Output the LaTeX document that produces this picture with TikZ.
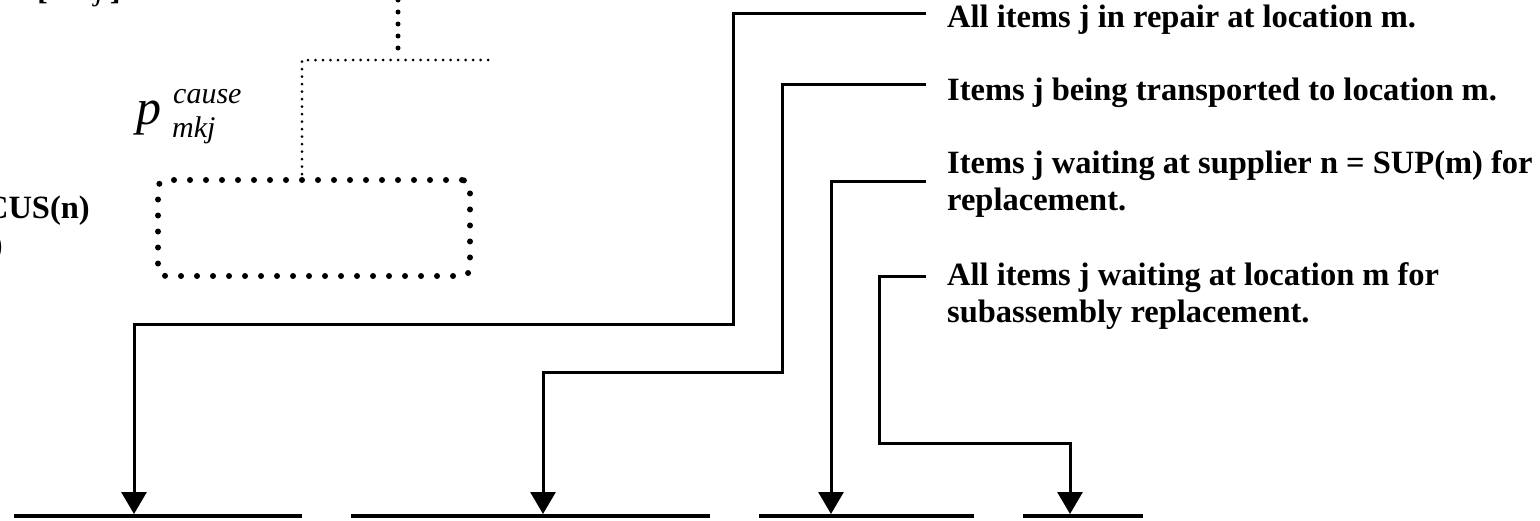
\documentclass[tikz,border=0pt]{standalone}
\usepackage{fontspec}
\setmainfont{Liberation Serif}
\usetikzlibrary{arrows.meta}
\begin{document}
\begin{tikzpicture}[x=1pt,y=-1pt,
  lbl/.style={font=\fontsize{32.5}{37}\selectfont\bfseries, inner sep=0pt, anchor=base west},
  itbig/.style={font=\fontsize{50}{50}\selectfont\itshape, inner sep=0pt, anchor=base west},
  itsmall/.style={font=\fontsize{30}{30}\selectfont\itshape, inner sep=0pt, anchor=base west},
  conn/.style={line width=3pt, -{Triangle[width=25pt,length=22pt]}},
  baseline/.style={line width=4pt},
  bigdots/.style={line width=5pt, line cap=round, dash pattern=on 0pt off 12pt},
  finedots/.style={line width=3pt, line cap=round, dash pattern=on 0pt off 7.5pt},
  boxdots/.style={draw, line width=6pt, line cap=round, dash pattern=on 0pt off 16pt,
    rounded corners=8pt, minimum width=312pt, minimum height=96pt, inner sep=0pt},
  ]
\useasboundingbox (0,0) rectangle (1540,520);
\clip (0,0) rectangle (1540,520);

% cropped texts at the left edge
\node[lbl] (brl) at (37,-1) {[};
\node[lbl, anchor=base east] (brr) at (121,-1) {]};
\node[itsmall, anchor=base east] (sub0) at (104,0) {mkj};
\node[lbl, anchor=base east] (cus) at (90,218) {CUS(n)};
\node[lbl, anchor=base east] (par) at (3,255) {)};

% p^cause_mkj
\node[itbig] (p) at (136,124) {p};
\node[itsmall] (sup) at (173,103) {cause};
\node[itsmall] (subs) at (172,137) {mkj};

% dotted parts
\node[boxdots] (box) at (314,228) {};
\coordinate (h0) at (488,60);
\coordinate (h1) at (302,60);
\draw[finedots] (h0) -- (h1) -- (h1 |- box.north);
\coordinate (v0) at (398,-12);
\coordinate (v1) at (398,48);
\draw[bigdots] (v0) -- (v1);

% right labels
\node[lbl] (t1) at (947,27) {All items j in repair at location m.};
\node[lbl] (t2) at (947,100) {Items j being transported to location m.};
\node[lbl] (t3) at (947,173) {Items j waiting at supplier n = SUP(m) for};
\node[lbl] (t3b) at (947,210) {replacement.};
\node[lbl] (t4) at (947,285) {All items j waiting at location m for};
\node[lbl] (t4b) at (947,322) {subassembly replacement.};

% connector start points
\coordinate (s1) at (926,13);
\coordinate (s2) at (926,84);
\coordinate (s3) at (926,181);
\coordinate (s4) at (926,276);

% base lines
\coordinate (b1l) at (14,516);  \coordinate (b1r) at (302,516);
\coordinate (b2l) at (351,516); \coordinate (b2r) at (710,516);
\coordinate (b3l) at (759,516); \coordinate (b3r) at (974,516);
\coordinate (b4l) at (1023,516); \coordinate (b4r) at (1143,516);
\draw[baseline] (b1l) -- (b1r);
\draw[baseline] (b2l) -- (b2r);
\draw[baseline] (b3l) -- (b3r);
\draw[baseline] (b4l) -- (b4r);

% arrow targets
\coordinate (a1) at (134,514);
\coordinate (a2) at (543,514);
\coordinate (a3) at (831,514);
\coordinate (a4) at (1070,514);

\draw[conn] (s1) -- (733,13) |- (134,324) -- (a1);
\draw[conn] (s2) -- (782,84) |- (543,372) -- (a2);
\draw[conn] (s3) -| (a3);
\draw[conn] (s4) -- (879,276) |- (1070,443) -- (a4);
\end{tikzpicture}
\end{document}
